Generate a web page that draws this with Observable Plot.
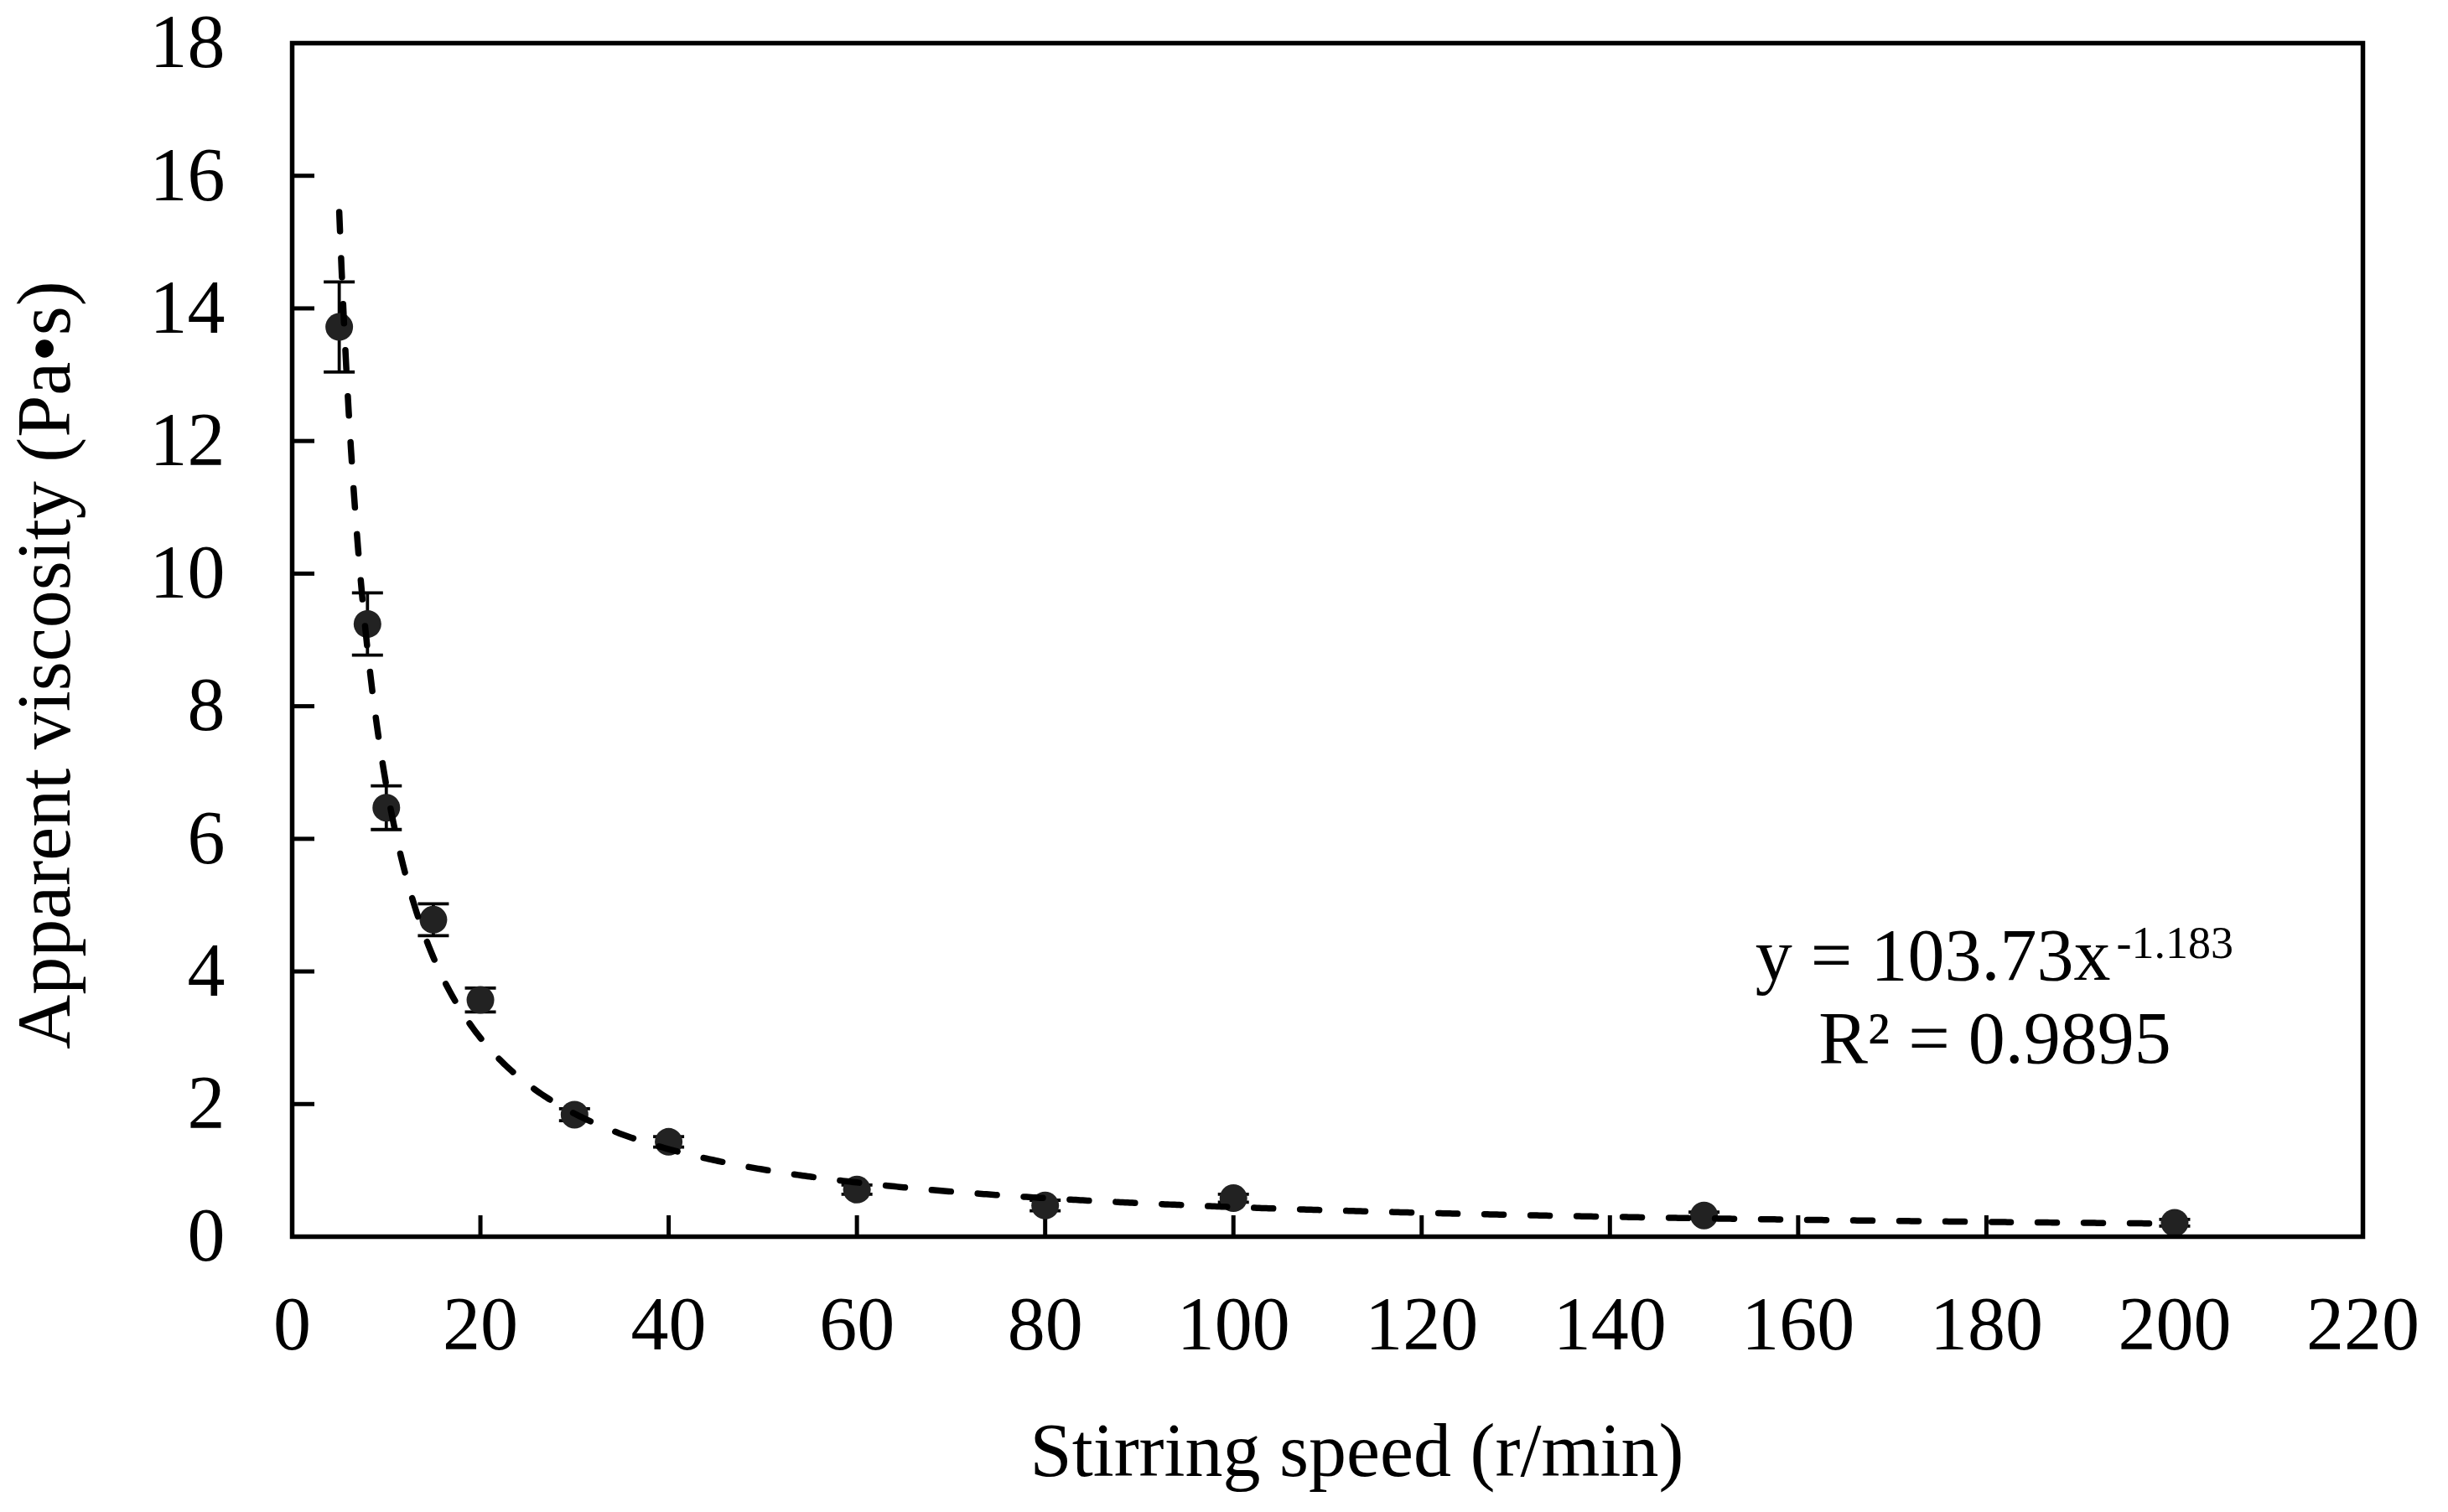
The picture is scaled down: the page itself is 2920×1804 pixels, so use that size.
<!DOCTYPE html>
<html>
<head>
<meta charset="utf-8">
<script src="https://cdn.jsdelivr.net/npm/d3@7"></script>
<script src="https://cdn.jsdelivr.net/npm/@observablehq/plot@0.6"></script>
<style>
  html, body { margin: 0; padding: 0; background: #fff; }
  #chart svg { display: block; }
</style>
</head>
<body>
<div id="chart"></div>
<script>
// stirring speed (r/min) and measured apparent viscosity (Pa·s)
const speed = [5, 8, 10, 15, 20, 30, 40, 60, 80, 100, 150, 200]
const viscosity = [13.72, 9.24, 6.47, 4.78, 3.57, 1.84, 1.43, 0.71, 0.47, 0.58, 0.32, 0.21]
const errors = [0.68, 0.47, 0.33, 0.24, 0.18, 0.09, 0.08, 0.07, 0.08, 0.06, 0.05, 0.05]

const xTicks = [0, 20, 40, 60, 80, 100, 120, 140, 160, 180, 200, 220]
const yTicks = [0, 2, 4, 6, 8, 10, 12, 14, 16, 18]

// power trendline printed on the chart
const fitA = 103.73
const fitB = -1.183
const fitLabel = 'y = 103.73x'
const fitPower = '-1.183'
const r2Label = 'R² = 0.9895'

const xTitle = 'Stirring speed (r/min)'
const yTitle = 'Apparent viscosity (Pa•s)'

const table = speed.map((x, i) => ({
  x,
  y: viscosity[i],
  lo: viscosity[i] - errors[i],
  hi: viscosity[i] + errors[i]
}))

const trend = d3.range(speed[0], speed[speed.length - 1] + 0.01, 0.25)
  .map(x => ({x, y: fitA * Math.pow(x, fitB)}))

// horizontal cap for the error bars
const cap = {
  draw(ctx) {
    ctx.moveTo(-18.5, 0)
    ctx.lineTo(18.5, 0)
  }
}

const chart = Plot.plot({
  width: 2920,
  height: 1804,
  marginLeft: 348,
  marginRight: 102,
  marginTop: 51,
  marginBottom: 329,
  x: {domain: [0, 220], label: null},
  y: {domain: [0, 18], label: null},
  style: {
    fontFamily: '"Liberation Serif", "Times New Roman", serif',
    fontSize: '90px',
    background: '#fff',
    color: '#000'
  },
  marks: [
    Plot.axisX({ticks: xTicks, tickSize: -25, tickPadding: 96, strokeWidth: 5, fontSize: 90, label: null}),
    Plot.axisY({ticks: yTicks, tickSize: -27, tickPadding: 107, strokeWidth: 5, fontSize: 90, label: null}),
    Plot.ruleX(table, {x: 'x', y1: 'lo', y2: 'hi', stroke: '#000', strokeWidth: 3.8}),
    Plot.dot(table, {x: 'x', y: 'lo', symbol: cap, fill: 'none', stroke: '#000', strokeWidth: 3.8}),
    Plot.dot(table, {x: 'x', y: 'hi', symbol: cap, fill: 'none', stroke: '#000', strokeWidth: 3.8}),
    Plot.dot(table, {x: 'x', y: 'y', r: 16.5, fill: '#222', stroke: 'none'}),
    Plot.line(trend, {x: 'x', y: 'y', stroke: '#000', strokeWidth: 7.5,
      strokeDasharray: '23,32', strokeLinecap: 'round'}),
    Plot.frame({stroke: '#000', strokeWidth: 5.5}),
    Plot.text([fitLabel], {frameAnchor: 'top-left', dx: 2169, dy: 1117,
      textAnchor: 'end', lineAnchor: 'bottom', fontSize: 88}),
    Plot.text([fitPower], {frameAnchor: 'top-left', dx: 2176, dy: 1091,
      textAnchor: 'start', lineAnchor: 'bottom', fontSize: 54}),
    Plot.text([r2Label], {frameAnchor: 'top-left', dx: 2031, dy: 1216,
      textAnchor: 'middle', lineAnchor: 'bottom', fontSize: 88}),
    Plot.text([xTitle], {frameAnchor: 'bottom', dx: 35, dy: 285,
      textAnchor: 'middle', lineAnchor: 'bottom', fontSize: 90}),
    Plot.text([yTitle], {frameAnchor: 'left', rotate: -90, dx: -266, dy: 30,
      textAnchor: 'middle', lineAnchor: 'bottom', fontSize: 90})
  ]
})

d3.select('#chart').append(() => chart)
</script>
</body>
</html>
